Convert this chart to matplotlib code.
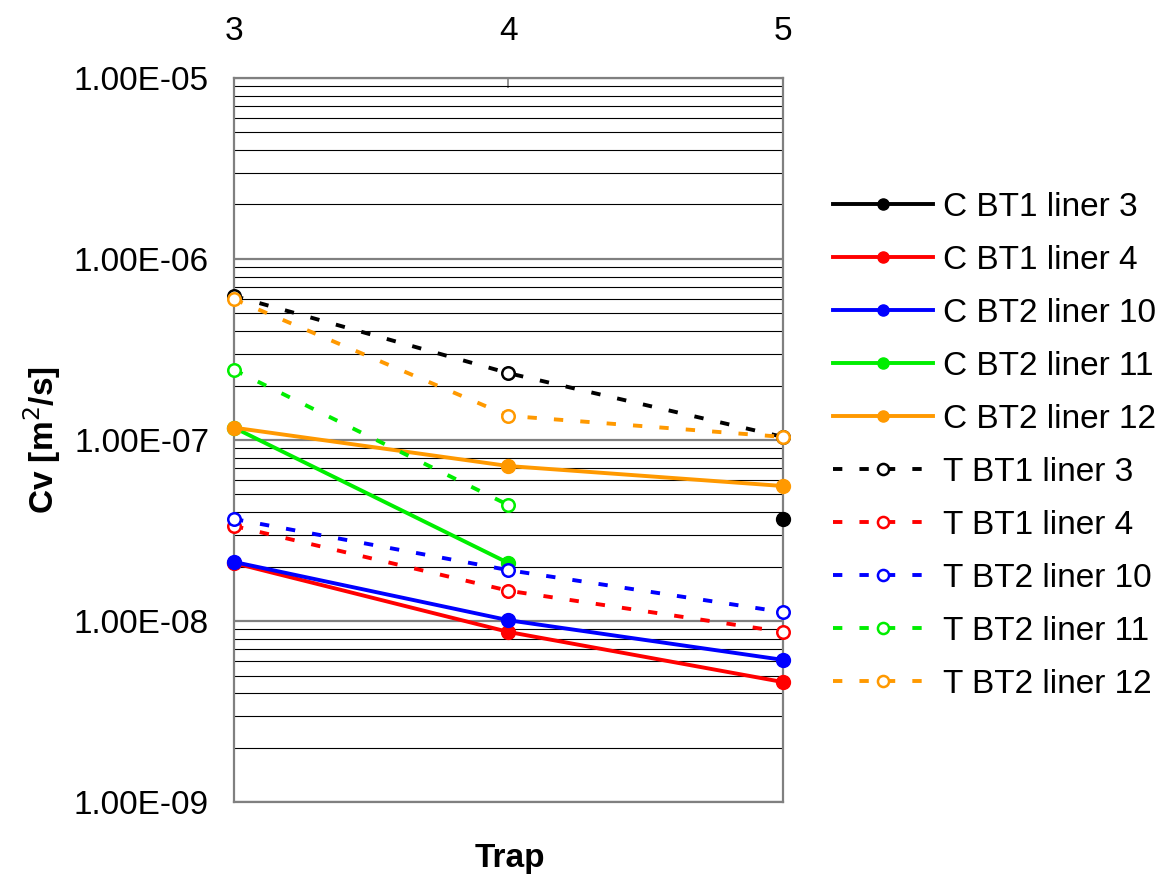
import numpy as np
import matplotlib
matplotlib.use("Agg")
import matplotlib.pyplot as plt
from matplotlib.ticker import FixedLocator, FuncFormatter, NullFormatter

plt.rcParams['font.family'] = ['Liberation Sans', 'DejaVu Sans']

traps = [3, 4, 5]
decades = [1e-9, 1e-8, 1e-7, 1e-6, 1e-5]

# C series (solid, filled markers)
c_bt1_l3 = [np.nan, np.nan, 3.66e-8]
c_bt1_l4 = [2.09e-8, 8.7e-9, 4.6e-9]
c_bt2_l10 = [2.12e-8, 1.01e-8, 6.1e-9]
c_bt2_l11 = [1.17e-7, 2.09e-8, np.nan]
c_bt2_l12 = [1.17e-7, 7.18e-8, 5.57e-8]

# T series (dashed, open markers)
t_bt1_l3 = [6.25e-7, 2.34e-7, 1.04e-7]
t_bt1_l4 = [3.35e-8, 1.47e-8, 8.7e-9]
t_bt2_l10 = [3.66e-8, 1.91e-8, 1.12e-8]
t_bt2_l11 = [2.44e-7, 4.37e-8, np.nan]
t_bt2_l12 = [6.0e-7, 1.36e-7, 1.04e-7]

labels_c = ['C BT1 liner 3', 'C BT1 liner 4', 'C BT2 liner 10', 'C BT2 liner 11', 'C BT2 liner 12']
labels_t = ['T BT1 liner 3', 'T BT1 liner 4', 'T BT2 liner 10', 'T BT2 liner 11', 'T BT2 liner 12']
colors = ['#000000', '#ff0000', '#0000ff', '#00ee00', '#ff9900']

fig = plt.figure(figsize=(11.62, 8.8), dpi=100)
ax = fig.add_axes([0.2014, 0.0886, 0.4724, 0.8228])

ax.set_yscale('log')
ax.set_ylim(1e-9, 1e-5)
ax.set_xlim(3, 5)

# gridlines: decades grey, 2..9 black
minor = [m * d for d in decades[:-1] for m in range(2, 10)]
ax.yaxis.set_major_locator(FixedLocator(decades))
ax.yaxis.set_minor_locator(FixedLocator(minor))
ax.grid(True, which='major', axis='y', color='#808080', lw=1.6)
ax.grid(True, which='minor', axis='y', color='#000000', lw=0.8)
ax.set_axisbelow(True)

c_series = [c_bt1_l3, c_bt1_l4, c_bt2_l10, c_bt2_l11, c_bt2_l12]
t_series = [t_bt1_l3, t_bt1_l4, t_bt2_l10, t_bt2_l11, t_bt2_l12]

handles = []
for vals, lab, col in zip(c_series, labels_c, colors):
    h, = ax.plot(traps, vals, '-', color=col, lw=2.8, marker='o', ms=10,
                 mfc=col, mec=col, label=lab, clip_on=False, zorder=3)
    handles.append(h)
for vals, lab, col in zip(t_series, labels_t, colors):
    h, = ax.plot(traps, vals, color=col, lw=2.8, ls=(0, (2.4, 4.4)), marker='o', ms=9,
                 mfc='white', mec=col, mew=1.8, label=lab, clip_on=False, zorder=4)
    handles.append(h)

# axes styling
for s in ax.spines.values():
    s.set_color('#808080')
    s.set_linewidth(1.6)

ax.xaxis.tick_top()
ax.xaxis.set_major_locator(FixedLocator(traps))
ax.tick_params(axis='x', which='major', direction='in', length=7, width=1.2,
               color='#808080', labelsize=24, pad=22)
ax.tick_params(axis='y', which='both', length=0, labelsize=24, pad=18)
ax.yaxis.set_major_formatter(FuncFormatter(lambda v, p: '%.2E' % v))
ax.yaxis.set_minor_formatter(NullFormatter())

ax.set_ylabel('Cv [m$^2$/s]', fontsize=24, fontweight='bold', labelpad=8)
fig.text(0.439, 0.024, 'Trap', fontsize=24, fontweight='bold', ha='center', va='center')

leg = fig.legend(handles=handles, loc='upper left', bbox_to_anchor=(0.705, 0.797),
                 frameon=False, fontsize=24, handlelength=3.0, handletextpad=0.3,
                 labelspacing=0.66, borderaxespad=0)
for lh in leg.get_lines():
    lh.set_markersize(8)

fig.savefig('out.png', dpi=100)
